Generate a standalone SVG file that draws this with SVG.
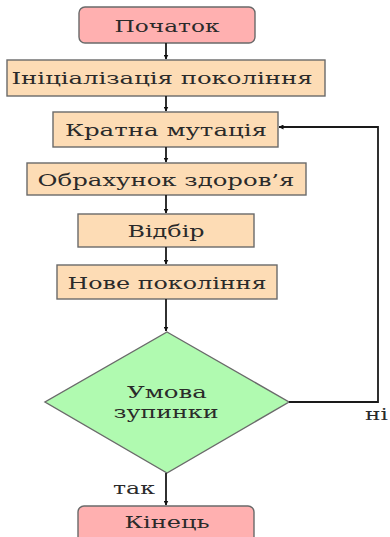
<svg xmlns="http://www.w3.org/2000/svg" width="390" height="537" viewBox="0 0 390 537">
<defs>
<marker id="ah" viewBox="0 0 10 10" refX="9" refY="5" markerWidth="5" markerHeight="5" orient="auto" markerUnits="userSpaceOnUse">
<path d="M0,0 L10,5 L0,10 z" fill="#111"/>
</marker>
</defs>
<style>
text{font-family:'DejaVu Serif',serif;font-size:17px;fill:#2a2a2a;font-weight:normal}
.t{text-anchor:middle}
.term{fill:#FFB0B0;stroke:#6a6a6a;stroke-width:1.4}
.proc{fill:#FDDCB5;stroke:#6a6a6a;stroke-width:1.4}
.dec{fill:#B0FAB0;stroke:#6a6a6a;stroke-width:1.4}
.c{fill:none;stroke:#1a1a1a;stroke-width:1.8;marker-end:url(#ah)}
</style>
<rect width="390" height="537" fill="#fff"/>
<g id="start"><rect class="term" x="79" y="7" width="176" height="36" rx="6"/><text class="t" x="167" y="32" textLength="105" lengthAdjust="spacingAndGlyphs">Початок</text></g>
<g id="init"><rect class="proc" x="7" y="60" width="318" height="36"/><text class="t" x="162" y="84" textLength="301" lengthAdjust="spacingAndGlyphs">Ініціалізація покоління</text></g>
<g id="mut"><rect class="proc" x="53" y="112" width="225" height="35"/><text class="t" x="166" y="136" textLength="202" lengthAdjust="spacingAndGlyphs">Кратна мутація</text></g>
<g id="fit"><rect class="proc" x="27" y="163" width="279" height="32"/><text class="t" x="166" y="186" textLength="257" lengthAdjust="spacingAndGlyphs">Обрахунок здоров’я</text></g>
<g id="sel"><rect class="proc" x="78" y="214" width="176" height="33"/><text class="t" x="166" y="237" textLength="77" lengthAdjust="spacingAndGlyphs">Відбір</text></g>
<g id="newgen"><rect class="proc" x="57" y="265" width="220" height="34"/><text class="t" x="167" y="289" textLength="199" lengthAdjust="spacingAndGlyphs">Нове покоління</text></g>
<g id="cond"><polygon class="dec" points="167,332 289,402 167,473 45,402"/><text class="t" x="167" y="398" textLength="80" lengthAdjust="spacingAndGlyphs">Умова</text><text class="t" x="166" y="418" textLength="105" lengthAdjust="spacingAndGlyphs">зупинки</text></g>
<g id="end"><rect class="term" x="78" y="506" width="176" height="40" rx="6"/><text class="t" x="167" y="528" textLength="85" lengthAdjust="spacingAndGlyphs">Кінець</text></g>
<g id="connectors">
<line class="c" x1="166" y1="43" x2="166" y2="59"/>
<line class="c" x1="166" y1="96" x2="166" y2="111"/>
<line class="c" x1="166" y1="147" x2="166" y2="162"/>
<line class="c" x1="166" y1="195" x2="166" y2="213"/>
<line class="c" x1="166" y1="247" x2="166" y2="264"/>
<line class="c" x1="166" y1="299" x2="166" y2="331"/>
<polyline class="c" points="289,402 378,402 378,127 279,127"/>
<line class="c" x1="166" y1="473" x2="166" y2="505"/>
<text x="365" y="420" textLength="23" lengthAdjust="spacingAndGlyphs">ні</text>
<text x="113" y="494" textLength="42" lengthAdjust="spacingAndGlyphs">так</text>
</g>
</svg>
